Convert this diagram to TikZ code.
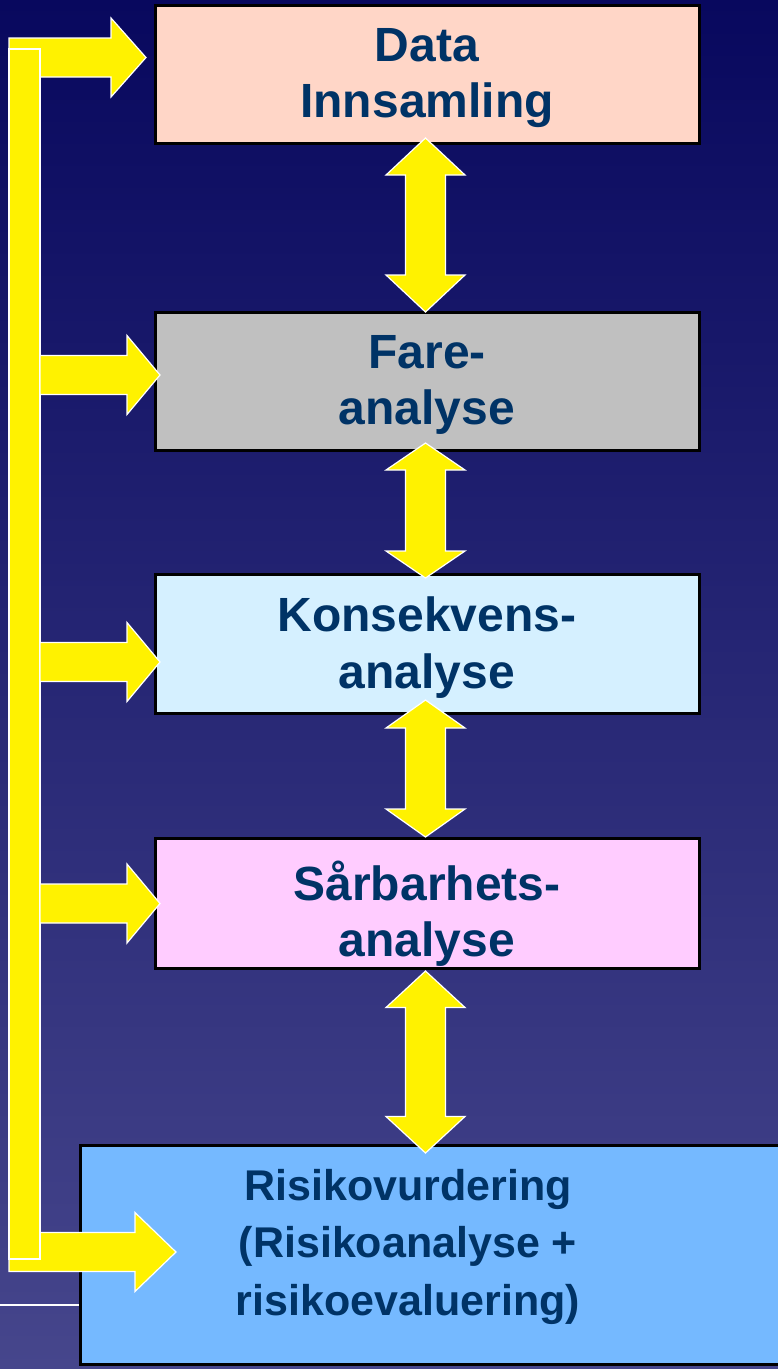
\documentclass[tikz,border=0pt]{standalone}
\usepackage{fontspec}
\setmainfont{Liberation Sans}
\usetikzlibrary{calc}
\definecolor{bgTop}{RGB}{8,8,94}
\definecolor{bgBot}{RGB}{70,70,140}
\definecolor{txt}{RGB}{0,51,102}
\definecolor{cA}{RGB}{255,214,199}
\definecolor{cB}{RGB}{192,192,192}
\definecolor{cC}{RGB}{213,240,255}
\definecolor{cD}{RGB}{255,204,255}
\definecolor{cE}{RGB}{117,185,255}
\begin{document}
\begin{tikzpicture}[x=1pt,y=-1pt,
  box/.style={rectangle,draw=black,line width=3pt,outer sep=0pt,inner sep=0pt},
  lbl/.style={text=txt,font=\fontsize{48}{56.5}\selectfont\bfseries,align=center,inner sep=0pt,
    execute at begin node=\strut,execute at end node=\strut},
  lblsmall/.style={lbl,font=\fontsize{43}{57.5}\selectfont\bfseries},
  yel/.style={fill=yellow,draw=white,line width=1.2pt,line join=miter},
  dblarrow/.style={yel,to path={let \p1=(\tikztostart),\p2=(\tikztotarget) in
    (\x1,\y1) -- (\x1+39.5pt,\y1-#1) -- (\x1+20pt,\y1-#1) -- (\x1+20pt,\y2+#1)
    -- (\x1+39.5pt,\y2+#1) -- (\x1,\y2) -- (\x1-39.5pt,\y2+#1) -- (\x1-20pt,\y2+#1)
    -- (\x1-20pt,\y1-#1) -- (\x1-39.5pt,\y1-#1) -- cycle}},
  harrow/.style={yel,to path={let \p1=(\tikztostart),\p2=(\tikztotarget) in
    (\x1,\y2+19.5pt) -- (\x2-#1,\y2+19.5pt) -- (\x2-#1,\y2+39.5pt) -- (\x2,\y2)
    -- (\x2-#1,\y2-39.5pt) -- (\x2-#1,\y2-19.5pt) -- (\x1,\y2-19.5pt) -- cycle}}
]
\useasboundingbox (0,0) rectangle (778,1369);
\clip (0,0) rectangle (778,1369);
\shade[top color=bgTop,bottom color=bgBot] (0,0) rectangle (778,1369);
\draw[white,line width=1.3pt] (0,1305) -- (100,1305);

% boxes
\node[box,fill=cA,minimum width=544pt,minimum height=138pt] (b1) at (427,74) {};
\node[box,fill=cB,minimum width=544pt,minimum height=138pt] (b2) at (427,381) {};
\node[box,fill=cC,minimum width=544pt,minimum height=139pt] (b3) at (427,643.5) {};
\node[box,fill=cD,minimum width=544pt,minimum height=130pt] (b4) at (427,903) {};
\node[box,fill=cE,minimum width=710pt,minimum height=219pt] (b5) at (435,1254.5) {};

% labels
\node[lbl] (t1) at (427,81.7) {Data\\Innsamling};
\node[lbl] (t2) at (427,388.7) {Fare-\\analyse};
\node[lbl] (t3) at (427,651.2) {Konsekvens-\\analyse};
\node[lbl] (t4) at (427,917.2) {Sårbarhets-\\analyse};
\node[lblsmall] (t5) at (408,1251) {Risikovurdering\\(Risikoanalyse +\\risikoevaluering)};

% left feedback bar and arrows
\coordinate (barL) at (9,0);
\coordinate (barR) at (40,0);
\draw[harrow=35pt] (barL) to ([xshift=-9pt,yshift=16.5pt]b1.west);
\draw[harrow=41pt] (barL) to ([xshift=96pt,yshift=2.5pt]b5.west);
\draw[yel] (9,49) rectangle (40,1259);
\draw[harrow=33pt] (barR) to ([xshift=5pt,yshift=6pt]b2.west);
\draw[harrow=33pt] (barR) to ([xshift=5pt,yshift=-18.5pt]b3.west);
\draw[harrow=33pt] (barR) to ([xshift=5pt,yshift=-0.5pt]b4.west);

% double arrows
\draw[dblarrow=37pt] ([xshift=-1.5pt,yshift=5pt]b1.south) to ([xshift=-1.5pt]b2.north);
\draw[dblarrow=27pt] ([xshift=-1.5pt,yshift=7pt]b2.south) to ([xshift=-1.5pt,yshift=-4pt]b3.north);
\draw[dblarrow=28pt] ([xshift=-1.5pt,yshift=13pt]b3.south) to ([xshift=-1.5pt,yshift=1pt]b4.north);
\draw[dblarrow=36.5pt] ([xshift=-1.5pt,yshift=-3pt]b4.south) to ([xshift=-1.5pt,yshift=-8pt]b5.north);
\end{tikzpicture}
\end{document}
